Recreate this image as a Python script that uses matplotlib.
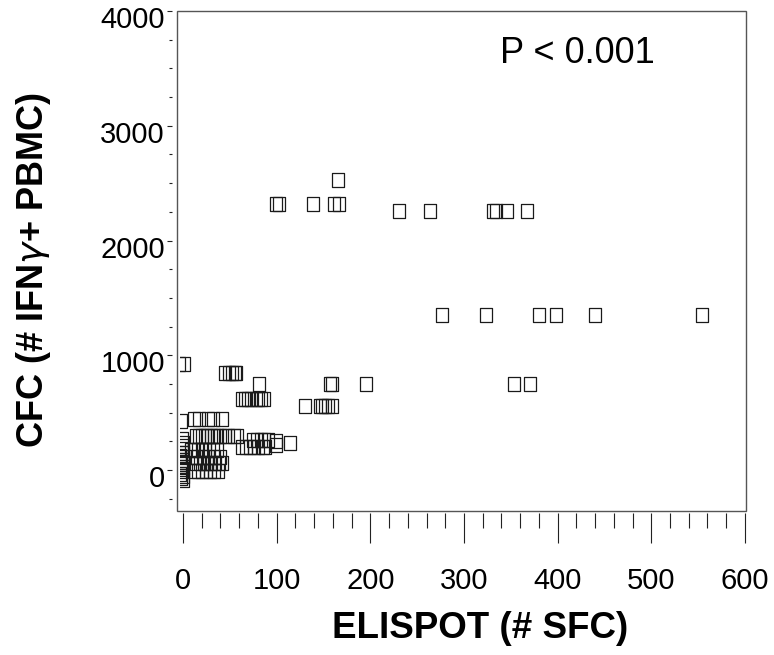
import matplotlib
matplotlib.use('Agg')
import matplotlib.pyplot as plt
import matplotlib.transforms as mtransforms
from matplotlib.path import Path
from matplotlib.patches import Rectangle
from matplotlib.ticker import MultipleLocator

plt.rcParams['font.family'] = ['Liberation Sans', 'DejaVu Sans']

# ELISPOT spot-forming cells vs. cytokine flow cytometry (IFN-gamma+ PBMC)
elispot = [165,
           99, 102, 139, 161, 167,
           231, 264, 331, 334, 346, 367,
           277, 323, 380, 398, 440, 554,
           81, 157, 159, 195, 353, 370,
           -4, 1,
           45, 49, 52, 55, 57,
           63, 66, 69, 73, 78, 80, 83, 87,
           130, 146, 148, 152, 155, 159,
           12, 17, 27, 32, 42, -2,
           14, 17, 20, 23, 26, 30, 33, 36, 40, 45, 48, 54, 58, -1,
           75, 79, 83, 87, 91, 99,
           63, 67, 71, 76, 80, 85, 88, 99, 114,
           8, 12, 16, 20, 24, 28, 32, 36,
           10, 15, 21, 27, 33, 40,
           14, 18, 22, 26, 30, 34, 38, 42,
           12, 16, 20, 25, 29, 33, 37,
           0, -2, 0, -3, 0, -1, 0, -2, 0, 0, -3, 0, -1, 0, 0]
cfc = [2530,
       2318, 2318, 2318, 2318, 2318,
       2255, 2255, 2255, 2255, 2255, 2255,
       1348, 1348, 1348, 1348, 1348, 1348,
       754, 754, 754, 754, 754, 754,
       925, 925,
       848, 848, 848, 848, 848,
       622, 622, 622, 622, 622, 622, 622, 622,
       555, 555, 555, 555, 555, 555,
       449, 449, 449, 449, 449, 424,
       293, 293, 293, 293, 293, 293, 293, 293, 293, 293, 293, 293, 293, 270,
       258, 258, 258, 258, 258, 250,
       205, 205, 205, 205, 205, 205, 205, 215, 232,
       175, 175, 175, 175, 175, 175, 175, 175,
       110, 110, 110, 110, 110, 110,
       60, 60, 60, 60, 60, 60, 60, 60,
       -10, -10, -10, -10, -10, -10, -10,
       -90, -70, -50, -30, -10, 10, 30, 50, 70, 90, 120, 150, 180, 210, 240]

x_major = 100
x_minor = 20
y_ticks = [0, 1000, 2000, 3000, 4000]
y_minor = 250

fig = plt.figure(figsize=(7.74, 6.55), dpi=100)
ax = fig.add_axes([0.2287, 0.2198, 0.7351, 0.7634])

# slightly tall open box marker
box = Path([(-0.44, -0.5), (0.44, -0.5), (0.44, 0.5), (-0.44, 0.5), (-0.44, -0.5)],
           [Path.MOVETO, Path.LINETO, Path.LINETO, Path.LINETO, Path.CLOSEPOLY])
pts, = ax.plot(elispot, cfc, linestyle='none', marker=box, markersize=10.3,
               markerfacecolor='none', markeredgecolor='#1a1a1a',
               markeredgewidth=0.9)
# points below zero ELISPOT are cut off at the plotting region edge
pts.set_clip_path(Rectangle((-3.2, -500), 700, 5000, transform=ax.transData))

ax.set_xlim(-6.4, 601.1)
ax.set_ylim(-357, 4000)

ax.xaxis.set_major_locator(MultipleLocator(x_major))
ax.xaxis.set_minor_locator(MultipleLocator(x_minor))
ax.set_yticks(y_ticks)
ax.yaxis.set_minor_locator(MultipleLocator(y_minor))

# ticks sit detached from the frame
ax.spines['left'].set_position(('outward', 3.6))
ax.spines['bottom'].set_position(('outward', 1.5))
for s in ax.spines.values():
    s.set_visible(False)
ax.add_patch(Rectangle((0, 0), 1, 1, transform=ax.transAxes, fill=False,
                       edgecolor='#555555', linewidth=1.0, clip_on=False))

ax.tick_params(axis='x', which='major', direction='out', length=21.6,
               width=0.8, color='#222222', pad=17, labelsize=21)
ax.tick_params(axis='x', which='minor', direction='out', length=10.8,
               width=0.8, color='#222222')
ax.tick_params(axis='y', which='major', direction='out', length=3.6,
               width=0.8, color='#222222', pad=1.5, labelsize=21)
ax.tick_params(axis='y', which='minor', direction='out', length=2.5,
               width=0.8, color='#222222')

# y labels hang a little below their tick marks
shift = mtransforms.ScaledTranslation(0, -0.06, fig.dpi_scale_trans)
for lbl in ax.get_yticklabels():
    lbl.set_transform(lbl.get_transform() + shift)

fig.text(0.620, 0.040, 'ELISPOT (# SFC)', fontsize=26.5, fontweight='bold',
         ha='center', va='center')
fig.text(0.043, 0.588, 'CFC (# IFN$\\gamma$+ PBMC)', fontsize=26,
         fontweight='bold', rotation=90, ha='center', va='center')

ax.text(0.5677, 0.896, 'P < 0.001', transform=ax.transAxes, fontsize=26,
        ha='left', va='baseline')

fig.savefig('out.png', dpi=100)
